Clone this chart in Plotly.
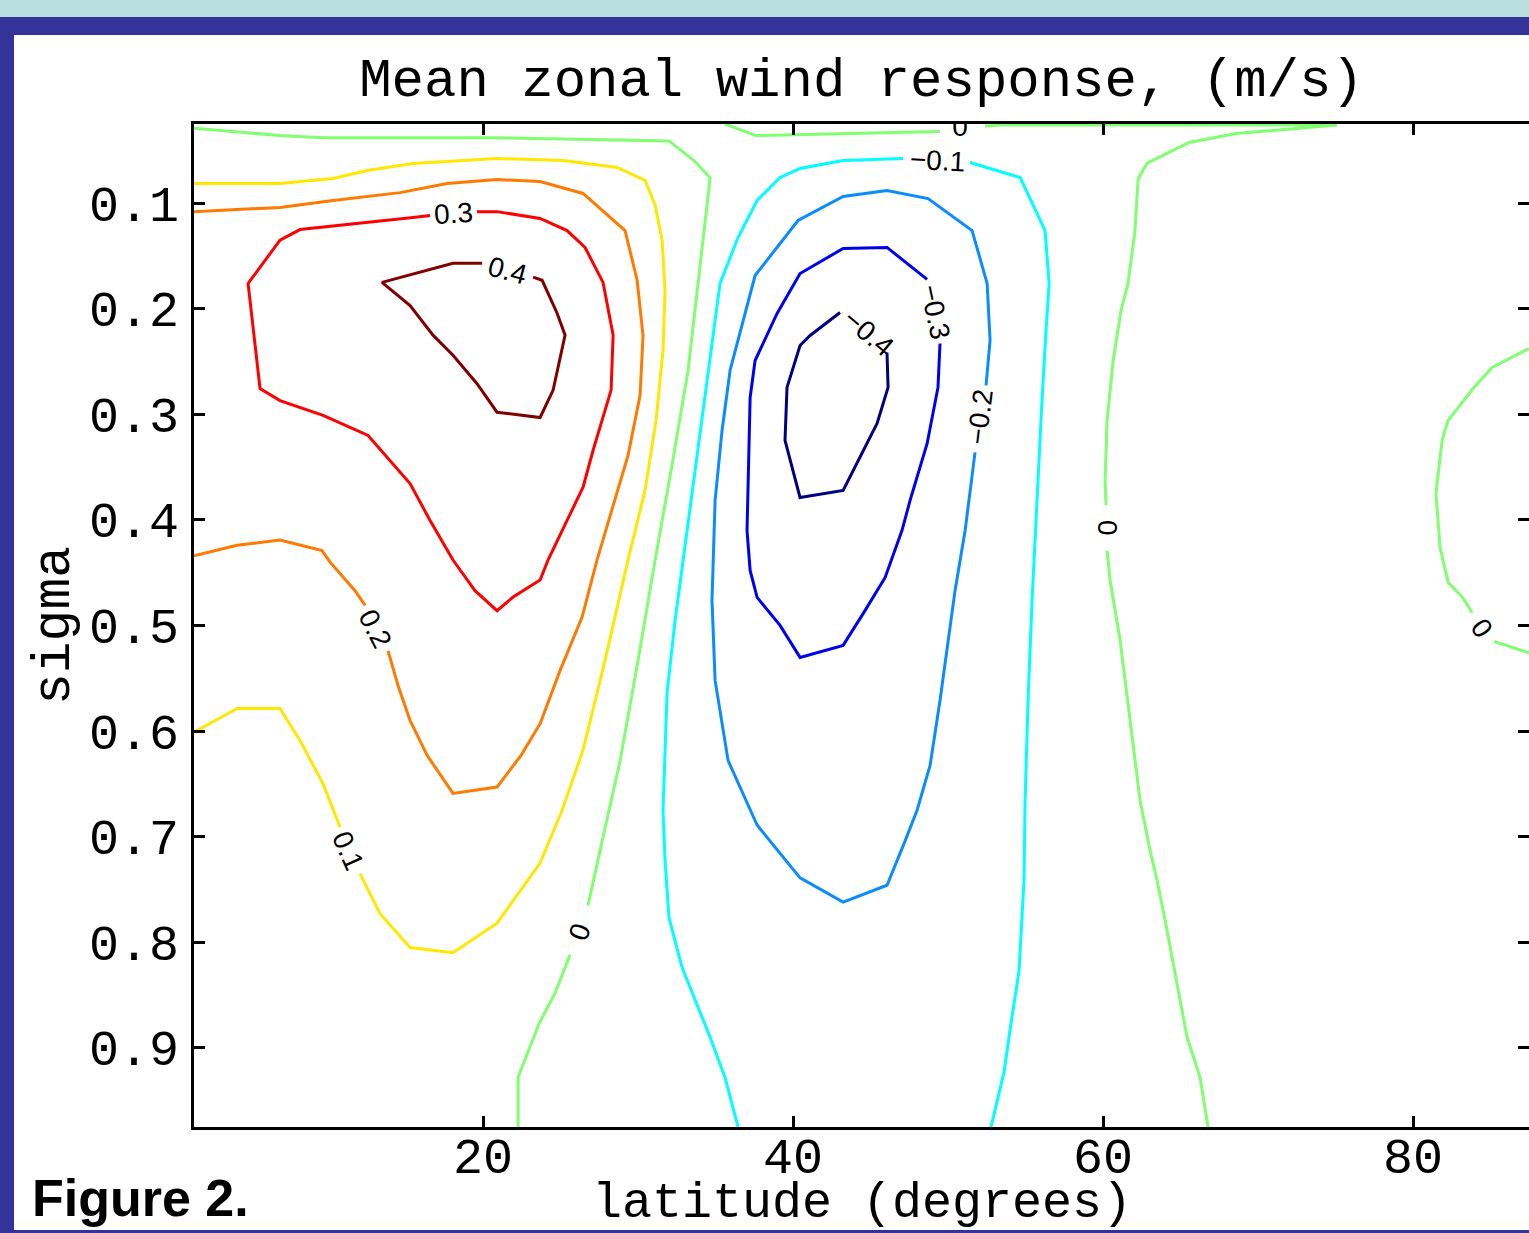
import plotly.graph_objects as go

# ---------------- data (latitude in degrees, sigma) ----------------
# contour level values
LEVELS = [-0.4, -0.3, -0.2, -0.1, 0.0, 0.1, 0.2, 0.3, 0.4]

# 0.4 contour
LAT_P04 = [23.23, 23.81, 24.77, 25.29, 24.52, 23.68, 20.90, 19.61, 18.06, 16.77, 15.29, 13.48, 18.06, 19.94]
SIG_P04 = [0.170, 0.173, 0.204, 0.225, 0.277, 0.303, 0.298, 0.271, 0.244, 0.225, 0.197, 0.175, 0.157, 0.157]

# 0.3 contour
LAT_P03 = [19.61, 20.90, 23.68, 25.42, 26.58, 27.74, 28.39, 28.26, 27.10, 26.45, 25.42, 24.19, 23.68, 21.94,
           20.90, 19.48, 18.06, 16.58, 15.29, 14.00, 12.58, 9.68, 6.90, 5.61, 5.16, 4.84, 6.90, 8.19, 15.48, 16.58]
SIG_P03 = [0.108, 0.108, 0.1145, 0.126, 0.142, 0.175, 0.225, 0.277, 0.334, 0.369, 0.4005, 0.438, 0.457, 0.473,
           0.486, 0.467, 0.438, 0.4005, 0.3655, 0.344, 0.320, 0.301, 0.287, 0.2755, 0.2205, 0.176, 0.135, 0.125,
           0.1135, 0.1116]

# 0.2 contour
LAT_P02 = [1.35, 6.90, 10.32, 14.65, 17.68, 20.90, 23.68, 26.45, 29.16, 29.94, 30.32, 30.13, 29.35, 28.32, 27.35,
           26.39, 24.97, 23.68, 22.45, 20.90, 18.06, 16.39, 15.29, 14.52, 13.87, None, 12.39, 11.74, 10.13, 9.61,
           6.90, 4.13, 1.35]
SIG_P02 = [0.108, 0.104, 0.0974, 0.090, 0.0813, 0.0776, 0.0795, 0.0908, 0.126, 0.173, 0.2253, 0.282, 0.339, 0.391,
           0.438, 0.492, 0.5425, 0.593, 0.623, 0.653, 0.659, 0.623, 0.590, 0.557, 0.524, None, 0.481, 0.467, 0.440,
           0.429, 0.419, 0.424, 0.434]

# 0.1 contour
LAT_P01 = [1.35, 6.90, 10.32, 12.52, 15.48, 20.90, 25.16, 28.65, 30.45, 31.10, 31.55, 31.74, 31.61, 31.16, 30.45,
           29.35, 27.87, 26.45, 25.10, 23.68, 20.90, 18.06, 15.29, 13.35, 12.06, None, 10.77, 9.68, 8.19, 6.90,
           4.13, 1.35]
SIG_P01 = [0.0813, 0.0813, 0.0766, 0.069, 0.0624, 0.0577, 0.0596, 0.0662, 0.0785, 0.102, 0.135, 0.183, 0.2395,
           0.306, 0.372, 0.438, 0.533, 0.618, 0.675, 0.725, 0.782, 0.810, 0.805, 0.773, 0.735, None, 0.691, 0.650,
           0.609, 0.5785, 0.5785, 0.601]

# 0 contour
LAT_Z = [1.35, 6.90, 9.68, 21.10, 32.0, 33.61, 34.65, 33.94, 33.23, 32.19, 31.10, 30.0, 28.84, 27.55, 26.77, None,
         25.61, 24.65, 23.61, 22.26, 22.26, None,
         35.61, 37.61, 43.68, 49.48, None, 52.39, 53.35, 75.10, 68.58, 65.55, 62.84, 62.26, 62.06, 61.61, 61.16,
         60.65, 60.26, 60.13, 60.19, None, 60.26, 60.45, 61.10, 61.74, 62.39, 63.03, 63.48, 64.0, 64.71, 65.42,
         66.26, 66.77, None,
         87.48, 85.10, 83.87, 82.26, 81.87, 81.48, 81.74, 82.26, 83.23, 83.81, None, 85.23, 87.48]
SIG_Z = [0.029, 0.036, 0.038, 0.038, 0.041, 0.0596, 0.076, 0.164, 0.258, 0.348, 0.438, 0.533, 0.628, 0.713, 0.765,
         None, 0.812, 0.848, 0.877, 0.928, 0.975, None,
         0.025, 0.036, 0.034, 0.032, None, 0.027, 0.026, 0.026, 0.034, 0.0425, 0.062, 0.077, 0.126, 0.176, 0.2016,
         0.249, 0.306, 0.3626, 0.386, None, 0.429, 0.457, 0.514, 0.590, 0.666, 0.713, 0.741, 0.779, 0.836, 0.890,
         0.928, 0.975, None,
         0.2376, 0.2556, 0.2755, 0.3058, 0.3247, 0.375, 0.426, 0.459, 0.474, 0.488, None, 0.515, 0.526]

# -0.1 contour
LAT_M01 = [36.45, 35.61, 34.65, 33.35, 32.84, 32.0, 31.74, 31.61, 31.87, 32.39, 32.90, 33.68, 34.52, 35.29, 36.45,
           37.68, 39.16, 40.45, 43.23, 47.10, None, 51.42, 54.65, 56.26, 56.52, 56.32, 56.06, 55.74, 55.42, 55.16,
           54.97, 54.90, 54.58, 54.06, 53.61, 52.77]
SIG_M01 = [0.975, 0.928, 0.890, 0.843, 0.824, 0.777, 0.7225, 0.675, 0.564, 0.495, 0.438, 0.353, 0.258, 0.176,
           0.1325, 0.0974, 0.0757, 0.0671, 0.0596, 0.0577, None, 0.0615, 0.0757, 0.126, 0.176, 0.2205, 0.287,
           0.3815, 0.476, 0.571, 0.666, 0.741, 0.827, 0.877, 0.923, 0.975]

# -0.2 contour
LAT_M02 = [51.74, 51.10, 50.45, 50.0, 49.48, 48.84, 48.0, 47.23, 46.06, 43.23, 40.45, 37.68, 35.81, 34.97, 34.77,
           34.97, 35.42, 35.94, 37.55, 40.32, 43.23, 46.06, 48.71, 51.55, 52.52, 52.71, 52.45]
SIG_M02 = [0.336, 0.410, 0.467, 0.514, 0.571, 0.6325, 0.675, 0.704, 0.746, 0.762, 0.739, 0.689, 0.628, 0.552, 0.476,
           0.3815, 0.315, 0.258, 0.1685, 0.1164, 0.0937, 0.088, 0.0956, 0.126, 0.176, 0.230, 0.2726]

# -0.3 contour
LAT_M03 = [49.48, 49.35, 48.65, 47.55, 47.03, 45.94, 44.65, 43.23, 40.45, 39.16, 37.68, 37.23, 37.03, 37.23, 37.55,
           38.97, 40.45, 43.23, 46.06, 48.65]
SIG_M03 = [0.2329, 0.2745, 0.3276, 0.3815, 0.4099, 0.4545, 0.4857, 0.5188, 0.5302, 0.4999, 0.4734, 0.4478, 0.4099,
           0.2841, 0.2490, 0.2044, 0.1666, 0.1429, 0.1419, 0.1722]

# -0.4 contour
LAT_M04 = [46.06, 46.13, 45.42, 43.23, 40.45, 39.48, 39.61, 40.45, 41.10, 43.03]
SIG_M04 = [0.2414, 0.2745, 0.3086, 0.3721, 0.3787, 0.3247, 0.2745, 0.2348, 0.2253, 0.2035]

# inline contour labels
LABEL_TEXT = ["0.4", "0.3", "0.2", "0.1", "0", "0", "0", "\u22120.1", "\u22120.2", "\u22120.3", "\u22120.4"]
LABEL_LAT = [21.55, 18.06, 13.03, 11.29, 26.26, 60.26, 84.45, 49.29, 52.06, 49.16, 44.84]
LABEL_SIG = [0.1637, 0.1098, 0.5027, 0.7130, 0.790, 0.407, 0.5027, 0.0596, 0.3030, 0.2026, 0.2225]
LABEL_ANGLE = [15, -4, 63, 66, -70, -90, 55, 3, -83, 78, 40]
# label clipped by the top of the frame
EDGE_LABEL_TEXT = ["0"]
EDGE_LABEL_LAT = [50.77]
EDGE_LABEL_SIG = [0.0293]

X_TICKS = [20, 40, 60, 80]
Y_TICKS = [0.1, 0.2, 0.3, 0.4, 0.5, 0.6, 0.7, 0.8, 0.9]
Y_TICK_TEXT = ["0.1", "0.2", "0.3", "0.4", "0.5", "0.6", "0.7", "0.8", "0.9"]

# ---------------- figure ----------------
W, H = 1529, 1233
ML, MR, MT, MB = 194, 0, 124, 106
PW, PH = W - ML - MR, H - MT - MB


def px_x(p):
    return (p - ML) / PW


def px_y(p):
    return (H - MB - p) / PH


COLORS = {
    -0.4: "#00007f", -0.3: "#0000f0", -0.2: "#0a8cff", -0.1: "#00ffff", 0.0: "#80ff70",
    0.1: "#ffe800", 0.2: "#ff7a00", 0.3: "#ff0000", 0.4: "#800000",
}
SERIES = {
    -0.4: (LAT_M04, SIG_M04), -0.3: (LAT_M03, SIG_M03), -0.2: (LAT_M02, SIG_M02), -0.1: (LAT_M01, SIG_M01),
    0.0: (LAT_Z, SIG_Z), 0.1: (LAT_P01, SIG_P01), 0.2: (LAT_P02, SIG_P02), 0.3: (LAT_P03, SIG_P03),
    0.4: (LAT_P04, SIG_P04),
}

MONO = "Liberation Mono, Courier New, monospace"
SANS = "Liberation Sans, Arial, sans-serif"
TICK_FONT = 50

fig = go.Figure()
for lev in LEVELS:
    xs, ys = SERIES[lev]
    fig.add_trace(go.Scatter(
        x=xs, y=ys, mode="lines", name=str(lev),
        line=dict(color=COLORS[lev], width=3),
        connectgaps=False, hoverinfo="skip", showlegend=False,
    ))

fig.add_trace(go.Scatter(
    x=EDGE_LABEL_LAT, y=EDGE_LABEL_SIG, mode="text", text=EDGE_LABEL_TEXT, yaxis="y2",
    textposition="middle center", textfont=dict(family=SANS, size=28, color="black"),
    cliponaxis=True, hoverinfo="skip", showlegend=False,
))

annotations = []
for t, la, sg, ang in zip(LABEL_TEXT, LABEL_LAT, LABEL_SIG, LABEL_ANGLE):
    annotations.append(dict(
        x=la, y=sg, xref="x", yref="y", text=t, showarrow=False, textangle=ang,
        font=dict(family=SANS, size=28, color="black"), xanchor="center", yanchor="middle",
    ))

# x-axis title (placed as annotation for exact positioning)
annotations.append(dict(
    x=0.5, y=px_y(1203), xref="paper", yref="paper", text="latitude (degrees)", showarrow=False,
    font=dict(family=MONO, size=50, color="black"), xanchor="center", yanchor="middle", borderpad=0,
))

annotations.append(dict(
    x=px_x(30), y=px_y(1198), xref="paper", yref="paper", text="<b>Figure 2.</b>", showarrow=False,
    font=dict(family=SANS, size=52, color="black"), xanchor="left", yanchor="middle",
))

tick_style = dict(
    ticks="inside", ticklen=11, tickwidth=2.5, tickcolor="black",
    showgrid=False, zeroline=False, automargin=False,
    tickfont=dict(family=MONO, size=TICK_FONT, color="black"),
)

fig.update_layout(
    width=W, height=H, autosize=False,
    margin=dict(l=ML, r=MR, t=MT, b=MB, pad=0),
    paper_bgcolor="#333399", plot_bgcolor="white",
    title=dict(text="Mean zonal wind response, (m/s)", x=0.5, xref="paper", xanchor="center",
               y=1 - 77 / H, yref="container", yanchor="middle",
               font=dict(family=MONO, size=54, color="black")),
    xaxis=dict(range=[1.35, 87.48], tickvals=X_TICKS, ticktext=[str(v) for v in X_TICKS],
               showline=True, linewidth=3, linecolor="black", mirror="ticks",
               ticklabelstandoff=-17,
               **tick_style),
    yaxis=dict(range=[0.975, 0.025], tickvals=Y_TICKS, ticktext=Y_TICK_TEXT,
               showline=True, linewidth=3, linecolor="black", mirror=False,
               ticklabelstandoff=2,
               title=dict(text="sigma", font=dict(family=MONO, size=53, color="black"), standoff=3),
               **tick_style),
    yaxis2=dict(range=[0.975, 0.025], tickvals=Y_TICKS, overlaying="y", side="right", anchor="x",
                showline=False, showticklabels=False, **tick_style),
    shapes=[
        dict(type="rect", xref="paper", yref="paper", x0=px_x(14), x1=1.1, y0=px_y(1230), y1=px_y(35),
             fillcolor="white", line=dict(width=0), layer="below"),
        dict(type="rect", xref="paper", yref="paper", x0=-0.3, x1=1.1, y0=px_y(17), y1=1.3,
             fillcolor="#b9dfe1", line=dict(width=0), layer="below"),
    ],
    annotations=annotations,
)

fig.write_html("out.html")
